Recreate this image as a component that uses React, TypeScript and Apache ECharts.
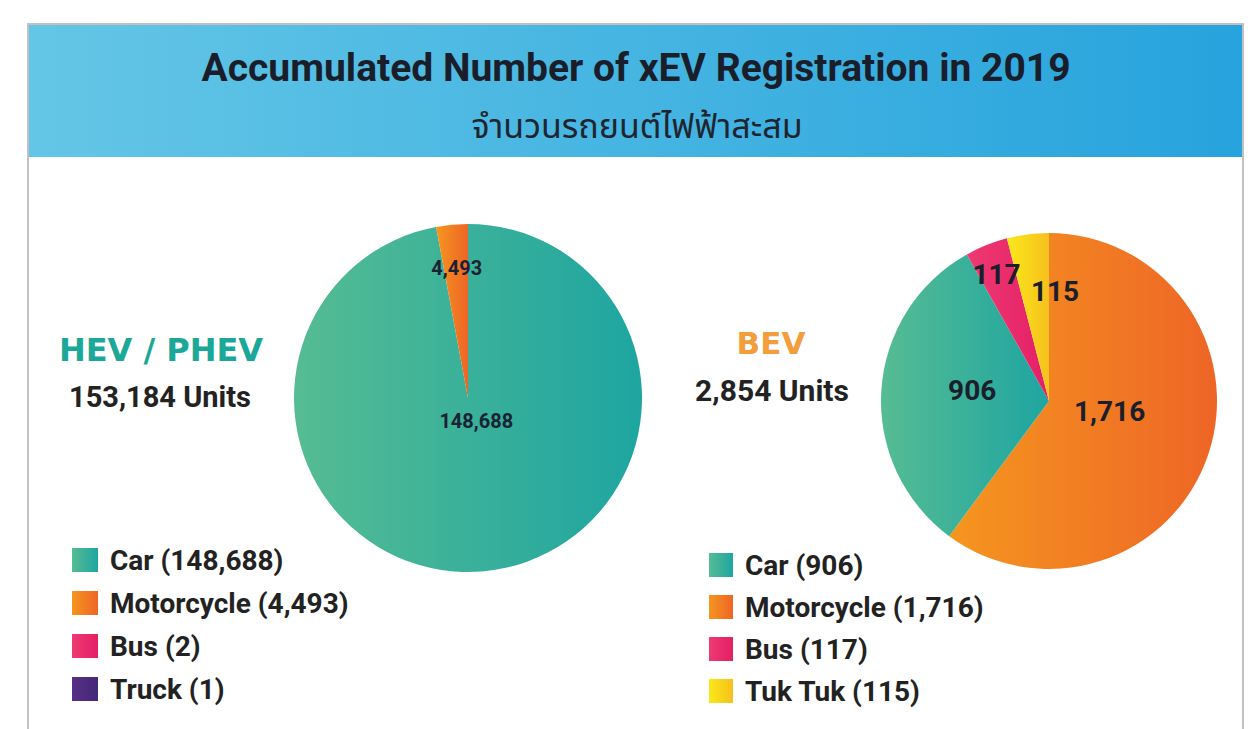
import { useEffect, useRef } from "react";
import * as echarts from "echarts";

// ---- data ----
const titleText = "Accumulated Number of xEV Registration in 2019";
const subtitleText = "จำนวนรถยนต์ไฟฟ้าสะสม";

const hevName = "HEV / PHEV";
const hevTotalLabel = "153,184 Units";
const hevCategories = ["Car", "Motorcycle", "Bus", "Truck"];
const hevValues = [148688, 4493, 2, 1];
const hevLegendOrder = ["Car", "Motorcycle", "Bus", "Truck"];

const bevName = "BEV";
const bevTotalLabel = "2,854 Units";
// slice order, clockwise from 12 o'clock
const bevCategories = ["Motorcycle", "Car", "Bus", "Tuk Tuk"];
const bevValues = [1716, 906, 117, 115];
const bevLegendOrder = ["Car", "Motorcycle", "Bus", "Tuk Tuk"];

const fmt = (v: number) => v.toLocaleString("en-US");

const grad = (a: string, b: string) =>
  new echarts.graphic.LinearGradient(0, 0, 1, 0, [
    { offset: 0, color: a },
    { offset: 1, color: b },
  ]);

const colorOf: Record<string, any> = {
  Car: grad("#56bc93", "#1ea5a1"),
  Motorcycle: grad("#f5961f", "#ee6526"),
  Bus: grad("#ee3a72", "#e41f66"),
  Truck: grad("#563086", "#452778"),
  "Tuk Tuk": grad("#fae81a", "#f6c11d"),
};

const FONT = "Roboto, 'Noto Sans', sans-serif";
const WIDE = "'DejaVu Sans', 'Noto Sans', sans-serif";
const THAI = "'Noto Sans Thai', 'Noto Sans Thai UI', Loma, Garuda, 'Noto Sans', 'DejaVu Sans', sans-serif";

// label nudges (style only)
const hevLabelShift: Record<string, [number, number]> = {
  Car: [0, -67],
  Motorcycle: [-3, -40],
};
const bevLabelShift: Record<string, [number, number]> = {
  Motorcycle: [-22, -17],
  Car: [10, -5],
  Bus: [-20, -46],
  "Tuk Tuk": [17, -23],
};

export default function App() {
  const ref = useRef<HTMLDivElement>(null);

  useEffect(() => {
    if (!ref.current) return;
    const chart = echarts.init(ref.current, null, { renderer: "svg" });

    const hevData = hevCategories.map((n, i) => ({
      name: n,
      value: hevValues[i],
      itemStyle: { color: colorOf[n] },
      label: { show: n in hevLabelShift },
    }));
    const bevData = bevCategories.map((n, i) => ({
      name: n,
      value: bevValues[i],
      itemStyle: { color: colorOf[n] },
    }));

    const legendText = {
      fontSize: 28,
      fontWeight: "bold" as const,
      fontFamily: FONT,
      color: "#222",
      lineHeight: 24,
      padding: [0, 0, 0, 7],
    };

    const txt = (x: number, y: number, text: string, font: string, fill: string) => ({
      type: "text",
      x,
      y,
      z: 2,
      style: { text, textAlign: "center", textVerticalAlign: "middle", font, fill },
    });

    chart.setOption({
      animation: false,
      backgroundColor: "#ffffff",
      graphic: [
        {
          type: "rect",
          shape: { x: 28, y: 24, width: 1215, height: 730 },
          style: { fill: "none", stroke: "#c2c2c2", lineWidth: 2 },
          z: 0,
        },
        {
          type: "rect",
          shape: { x: 29, y: 25, width: 1213, height: 132 },
          style: {
            fill: new echarts.graphic.LinearGradient(0, 0, 1, 0, [
              { offset: 0, color: "#64c6e6" },
              { offset: 1, color: "#27a3dd" },
            ]),
          },
          z: 1,
        },
        txt(636, 68, titleText, `bold 39px ${FONT}`, "#1a1e2a"),
        txt(637, 127, subtitleText, `34px ${THAI}`, "#1f2530"),
        txt(161, 350, hevName, `bold 32px ${WIDE}`, "#1ba898"),
        txt(160, 397, hevTotalLabel, `bold 29px ${FONT}`, "#222"),
        txt(771, 343, bevName, `bold 31px ${WIDE}`, "#f49d3c"),
        txt(772, 390, bevTotalLabel, `bold 30px ${FONT}`, "#222"),
      ],
      legend: [
        {
          data: hevLegendOrder,
          orient: "vertical",
          left: 67,
          top: 541,
          icon: "rect",
          itemWidth: 26,
          itemHeight: 24,
          itemGap: 15,
          selectedMode: false,
          formatter: (name: string) =>
            `${name} (${fmt(hevValues[hevCategories.indexOf(name)])})`,
          textStyle: legendText,
        },
        {
          data: bevLegendOrder,
          orient: "vertical",
          left: 704,
          top: 546,
          icon: "rect",
          itemWidth: 24,
          itemHeight: 24,
          itemGap: 14,
          selectedMode: false,
          formatter: (name: string) =>
            `${name} (${fmt(bevValues[bevCategories.indexOf(name)])})`,
          textStyle: legendText,
        },
      ],
      series: [
        {
          type: "pie",
          name: hevName,
          center: [468, 398],
          radius: [0, 174],
          startAngle: 90,
          clockwise: true,
          avoidLabelOverlap: false,
          silent: true,
          label: {
            show: true,
            position: "inside",
            formatter: (p: any) => fmt(p.value),
            fontSize: 20,
            fontWeight: "bold",
            fontFamily: FONT,
            color: "#1c2233",
          },
          labelLine: { show: false },
          labelLayout: (p: any) => {
            const s = hevLabelShift[hevCategories[p.dataIndex]] || [0, 0];
            return { dx: s[0], dy: s[1] };
          },
          data: hevData,
        },
        {
          type: "pie",
          name: bevName,
          center: [1049, 401],
          radius: [0, 168],
          startAngle: 90,
          clockwise: true,
          avoidLabelOverlap: false,
          silent: true,
          label: {
            show: true,
            position: "inside",
            formatter: (p: any) => fmt(p.value),
            fontSize: 28,
            fontWeight: "bold",
            fontFamily: FONT,
            color: "#1a1f2b",
          },
          labelLine: { show: false },
          labelLayout: (p: any) => {
            const s = bevLabelShift[bevCategories[p.dataIndex]] || [0, 0];
            return { dx: s[0], dy: s[1] };
          },
          data: bevData,
        },
      ],
    });

    return () => chart.dispose();
  }, []);

  return (
    <div
      ref={ref}
      style={{ position: "fixed", left: 0, top: 0, width: 1251, height: 729 }}
    />
  );
}
